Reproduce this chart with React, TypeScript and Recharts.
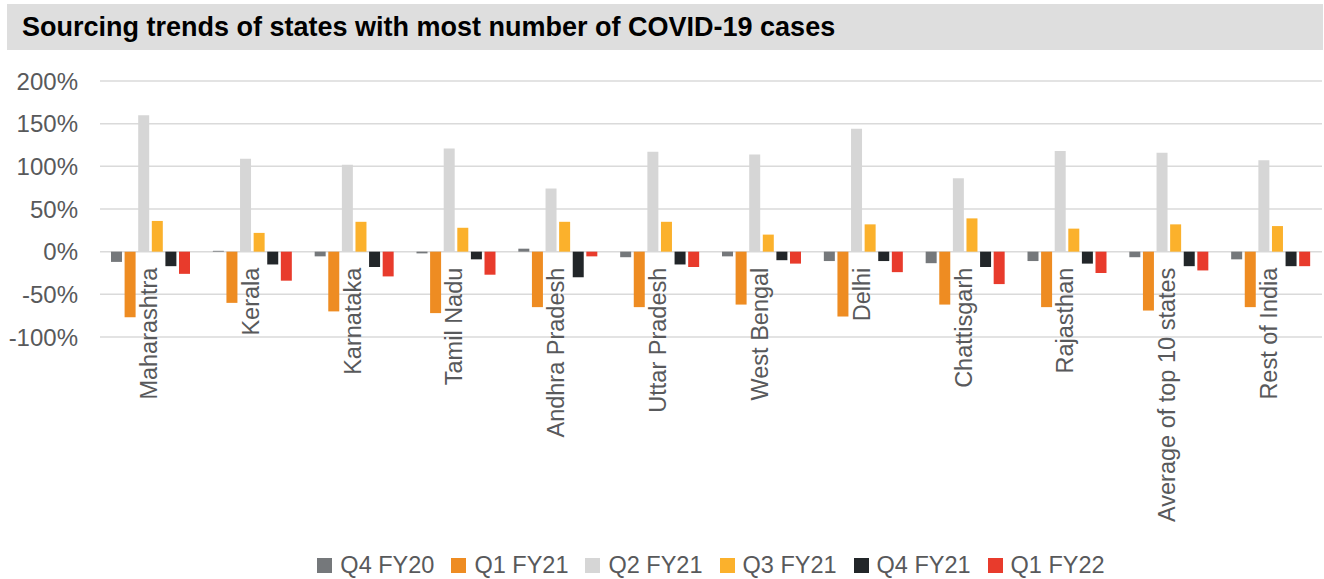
import { Bar, BarChart, CartesianGrid, Legend, XAxis, YAxis } from "recharts";

const categories = [
  "Maharashtra",
  "Kerala",
  "Karnataka",
  "Tamil Nadu",
  "Andhra Pradesh",
  "Uttar Pradesh",
  "West Bengal",
  "Delhi",
  "Chattisgarh",
  "Rajasthan",
  "Average of top 10 states",
  "Rest of India",
];

const q4fy20 = [-12, 1, -5.5, -2, 3.5, -6.5, -5.5, -11, -13.5, -11, -6.5, -9];
const q1fy21 = [-77, -60, -70, -72, -65, -65, -62, -76, -62, -65, -69, -65];
const q2fy21 = [160, 109, 102, 121, 74, 117, 114, 144, 86, 118, 116, 107];
const q3fy21 = [36, 22, 35, 28, 35, 35, 20, 32, 39, 27, 32, 30];
const q4fy21 = [-17, -15, -18, -9, -30, -15, -10, -11, -18, -14, -17, -17];
const q1fy22 = [-26, -34, -29, -27, -5.5, -18, -14, -24, -38, -25, -22, -17];

const yTicks = [-100, -50, 0, 50, 100, 150, 200];

const series = [
  { key: "q4fy20", name: "Q4 FY20", color: "#75787b", values: q4fy20 },
  { key: "q1fy21", name: "Q1 FY21", color: "#ee8c22", values: q1fy21 },
  { key: "q2fy21", name: "Q2 FY21", color: "#d6d6d6", values: q2fy21 },
  { key: "q3fy21", name: "Q3 FY21", color: "#fbb12c", values: q3fy21 },
  { key: "q4fy21", name: "Q4 FY21", color: "#222629", values: q4fy21 },
  { key: "q1fy22", name: "Q1 FY22", color: "#e83b2c", values: q1fy22 },
];

const data = categories.map((name, i) => {
  const row: Record<string, string | number> = { name };
  series.forEach((s) => {
    row[s.key] = s.values[i];
  });
  return row;
});

const font = "'Liberation Sans', Arial, Helvetica, sans-serif";
const textGray = "#58595b";
const gridStroke = "#dadada";

const chartWidth = 1324;
const chartHeight = 519;
const marginTop = 21;
const plotHeight = 256;
const legendHeight = 28;
const xAxisHeight = chartHeight - marginTop - plotHeight - legendHeight;
const yMin = yTicks[0];
const yMax = yTicks[yTicks.length - 1];

// category labels hang just under the 0% line, not under the plot
function CategoryTick(props: any) {
  const { x, y, payload } = props;
  const zeroY = y - (plotHeight * (0 - yMin)) / (yMax - yMin);
  const tx = x + 6;
  const ty = zeroY + 16;
  return (
    <text
      x={tx}
      y={ty}
      transform={`rotate(-90, ${tx}, ${ty})`}
      textAnchor="end"
      fill={textGray}
      fontSize={23.5}
      fontFamily={font}
    >
      {payload.value}
    </text>
  );
}

function LegendContent() {
  return (
    <div
      style={{
        display: "flex",
        justifyContent: "center",
        alignItems: "center",
        height: legendHeight,
        fontFamily: font,
        fontSize: 23.5,
        color: textGray,
      }}
    >
      {series.map((s, i) => (
        <div
          key={s.key}
          style={{
            display: "flex",
            alignItems: "center",
            marginRight: i === series.length - 1 ? 0 : 17,
          }}
        >
          <span
            style={{
              display: "inline-block",
              width: 15,
              height: 15,
              background: s.color,
              marginRight: 8,
            }}
          />
          <span>{s.name}</span>
        </div>
      ))}
    </div>
  );
}

export default function App() {
  return (
    <div
      style={{
        position: "absolute",
        left: 0,
        top: 0,
        width: 1324,
        height: 579,
        background: "#fff",
        fontFamily: font,
      }}
    >
      <div
        style={{
          position: "absolute",
          left: 7,
          top: 4,
          width: 1316,
          height: 46,
          background: "#dedede",
        }}
      >
        <div
          style={{
            position: "absolute",
            left: 15,
            top: 8,
            fontSize: 27,
            fontWeight: "bold",
            color: "#000",
            lineHeight: "30px",
            whiteSpace: "nowrap",
          }}
        >
          Sourcing trends of states with most number of COVID-19 cases
        </div>
      </div>
      <div style={{ position: "absolute", left: 0, top: 60 }}>
        <BarChart
          width={chartWidth}
          height={chartHeight}
          data={data}
          margin={{ top: marginTop, right: 2, bottom: 0, left: 0 }}
          barSize={11}
          barGap={2.6}
        >
          <CartesianGrid vertical={false} stroke={gridStroke} strokeWidth={1.5} />
          <XAxis
            dataKey="name"
            axisLine={false}
            tickLine={false}
            tickSize={0}
            tickMargin={0}
            height={xAxisHeight}
            interval={0}
            tick={<CategoryTick />}
          />
          <YAxis
            width={100}
            domain={[yMin, yMax]}
            ticks={yTicks}
            axisLine={false}
            tickLine={false}
            tickSize={0}
            tickMargin={22}
            tickFormatter={(v) => `${v}%`}
            tick={{ fill: textGray, fontSize: 24, fontFamily: font }}
          />
          <Legend
            verticalAlign="bottom"
            content={<LegendContent />}
            wrapperStyle={{ left: 100, width: 1222, height: legendHeight }}
          />
          {series.map((s) => (
            <Bar
              key={s.key}
              dataKey={s.key}
              name={s.name}
              fill={s.color}
              isAnimationActive={false}
            />
          ))}
        </BarChart>
      </div>
    </div>
  );
}
